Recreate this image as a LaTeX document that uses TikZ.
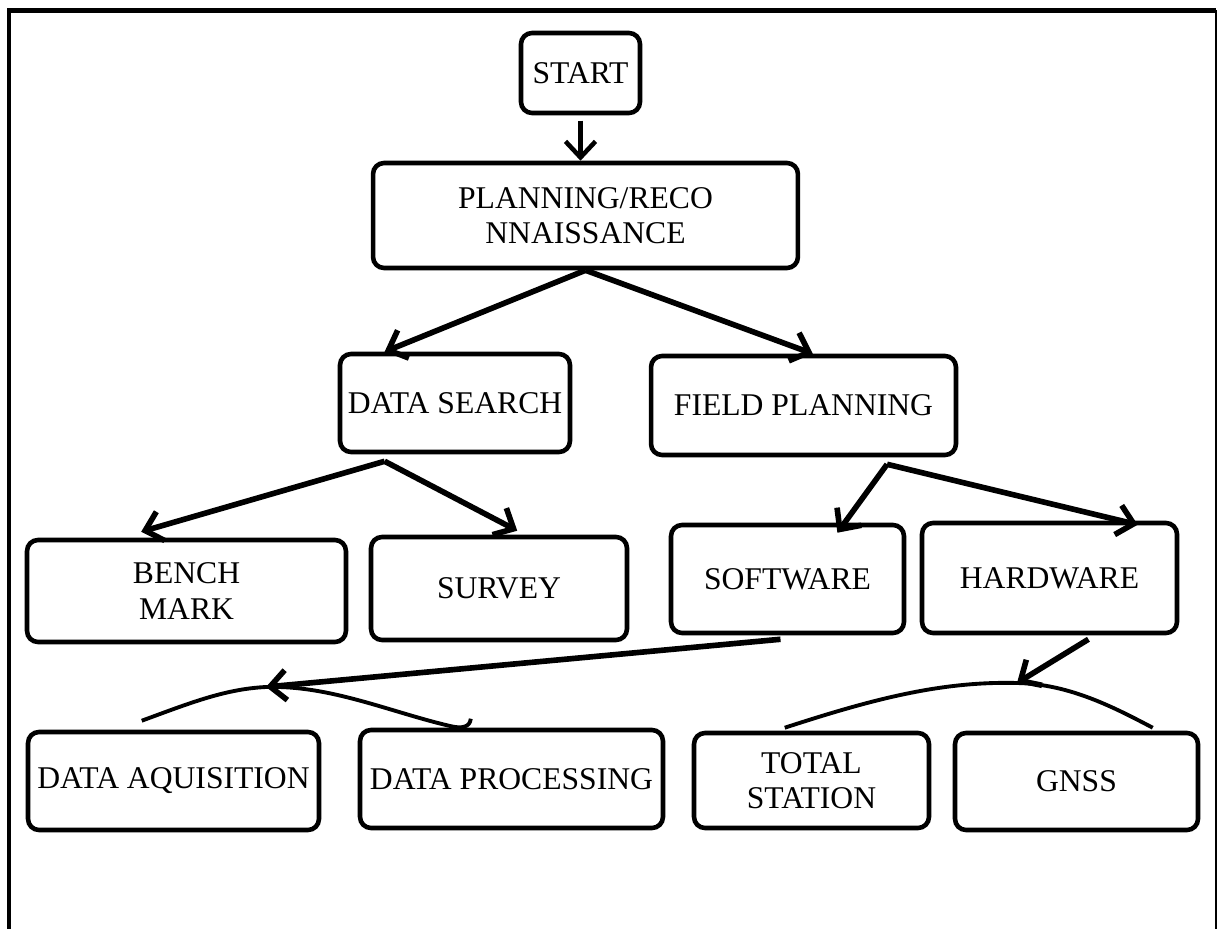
\documentclass[tikz,border=0pt]{standalone}
\usepackage{fontspec}
\setmainfont{Liberation Serif}
\usetikzlibrary{arrows.meta,calc}

\begin{document}
\begin{tikzpicture}[x=0.02cm, y=-0.02cm,
    box/.style={draw, line width=2.6pt, rounded corners=0.22cm, align=center, inner sep=0pt, font=\fontsize{18pt}{20pt}\selectfont},
    arr/.style={-{Straight Barb[length=3.2mm,width=6mm]}, line width=3.2pt},
    brace/.style={line width=2.2pt}]
            \useasboundingbox (0,0) rectangle (1218,929);
            % frame, open at the bottom
            \draw [line width=2.8pt] (9,929) -- (9,10.5) -- (1216,10.5);
            \draw [line width=1.1pt] (1216,10.5) -- (1216,929);

            \node (st) [box, minimum width=2.38cm, minimum height=1.6cm] at (580.5,73) {START};
            \node (pl) [box, minimum width=8.5cm, minimum height=2.1cm] at (585.5,215.5) {PLANNING/RECO\\NNAISSANCE};
            \node (ds) [box, minimum width=4.6cm, minimum height=1.96cm] at (455,403) {DATA SEARCH};
            \node (fp) [box, minimum width=6.1cm, minimum height=1.98cm] at (803.5,405.5) {FIELD PLANNING};
            \node (bm) [box, minimum width=6.38cm, minimum height=2.04cm] at (186.5,591) {BENCH\\MARK};
            \node (sv) [box, minimum width=5.12cm, minimum height=2.06cm] at (499,588.5) {SURVEY};
            \node (sw) [box, minimum width=4.66cm, minimum height=2.16cm] at (787.5,579) {SOFTWARE};
            \node (hw) [box, minimum width=5.1cm, minimum height=2.2cm] at (1049.5,578) {HARDWARE};
            \node (da) [box, minimum width=5.82cm, minimum height=1.96cm] at (173.5,781) {DATA AQUISITION};
            \node (dp) [box, minimum width=6.06cm, minimum height=1.96cm] at (511.5,779) {DATA PROCESSING};
            \node (ts) [box, minimum width=4.7cm, minimum height=1.9cm] at (811.5,780.5) {TOTAL\\STATION};
            \node (gn) [box, minimum width=4.86cm, minimum height=1.94cm] at (1076.5,781.5) {GNSS};

            \coordinate (dajoin) at (266,687);
            \coordinate (tsjoin) at (1017,683);

            \draw [arr, line width=2.6pt] ([yshift=-3pt]st.south) -- (st.south |- pl.north);
            \draw [arr] (pl.south) -- ($(ds.north west)!0.2!(ds.north east)$);
            \draw [arr] (pl.south) -- ($(fp.north west)!0.53!(fp.north east)$);
            \draw [arr] ($(ds.south west)!0.2!(ds.south east)+(0,7)$) -- ($(bm.north west)!0.36!(bm.north east)+(0,-6)$);
            \draw [arr] ($(ds.south west)!0.2!(ds.south east)+(0,7)$) -- ($(sv.north west)!0.57!(sv.north east)+(0,-4)$);
            \draw [arr] ($(fp.south west)!0.77!(fp.south east)+(0,7)$) -- ($(sw.north west)!0.71!(sw.north east)+(0,10)$);
            \draw [arr] ($(fp.south west)!0.77!(fp.south east)+(0,7)$) -- ($(hw.north west)!0.84!(hw.north east)+(0,4)$);
            \draw [arr] ($(sw.south)+(-7,4)$) -- (dajoin);
            \draw [arr] ($(hw.south west)!0.65!(hw.south east)+(0,4)$) -- (tsjoin);

            % brackets over the last row
            \draw [brace] ($(da.north west)+(116,-9)$) .. controls (190,703) and (225,689) .. (dajoin)
                .. controls (330,685) and (390,712) .. (450,726) .. controls (462,729) and (470,727) .. ($(dp.north west)+(113,-9)$);
            \draw [brace] ($(ts.north west)+(93,-3)$) .. controls (870,700) and (940,681) .. (tsjoin)
                .. controls (1070,684) and (1115,708) .. ($(gn.north west)+(200,-3)$);
\end{tikzpicture}
\end{document}
